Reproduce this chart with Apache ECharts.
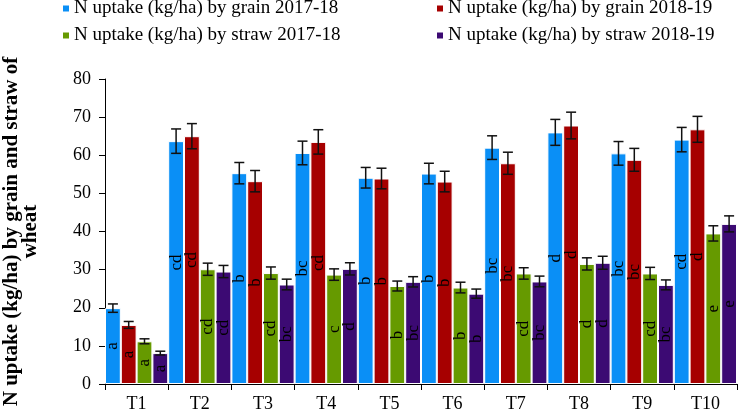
<!DOCTYPE html>
<html><head><meta charset="utf-8">
<script src="https://cdn.jsdelivr.net/npm/echarts@6/dist/echarts.min.js"></script>
<style>html,body{margin:0;padding:0;background:#fff}#c{width:738px;height:413px}</style>
</head><body><div id="c"></div>
<script>
var categories = ['T1','T2','T3','T4','T5','T6','T7','T8','T9','T10'];
var seriesNames = ['N uptake (kg/ha) by grain 2017-18','N uptake (kg/ha) by grain 2018-19','N uptake (kg/ha) by straw 2017-18','N uptake (kg/ha) by straw 2018-19'];
var grain1718 = [19.9, 63.7, 55.3, 60.6, 54.1, 55.2, 62.0, 66.0, 60.5, 64.1];
var grain1819 = [15.5, 65.0, 53.2, 63.5, 53.9, 53.1, 57.9, 67.8, 58.8, 66.8];
var straw1718 = [11.2, 30.1, 29.1, 28.7, 25.7, 25.3, 29.0, 31.5, 29.0, 39.5];
var straw1819 = [8.1, 29.5, 26.1, 30.2, 26.8, 23.7, 26.9, 31.8, 26.0, 42.0];
var errGrain1718 = [1.1, 3.2, 2.8, 3.1, 2.7, 2.7, 3.1, 3.4, 3.1, 3.2];
var errGrain1819 = [0.9, 3.3, 2.8, 3.2, 2.7, 2.7, 2.9, 3.5, 3.0, 3.4];
var errStraw1718 = [0.65, 1.6, 1.6, 1.5, 1.3, 1.4, 1.5, 1.6, 1.6, 2.0];
var errStraw1819 = [0.5, 1.6, 1.4, 1.6, 1.35, 1.2, 1.4, 1.7, 1.3, 2.1];
var letGrain1718 = ['a','cd','b','bc','b','b','bc','d','bc','cd'];
var letGrain1819 = ['a','cd','b','cd','b','b','bc','d','bc','d'];
var letStraw1718 = ['a','cd','cd','c','b','b','cd','d','cd','e'];
var letStraw1819 = ['a','cd','bc','d','bc','b','bc','d','bc','e'];
var yTicks = [0,10,20,30,40,50,60,70,80];

var colors = ['#0A8FF6','#A60000','#669A00','#3C0A73'];
var values = [grain1718, grain1819, straw1718, straw1819];
var errs = [errGrain1718, errGrain1819, errStraw1718, errStraw1819];
var lets = [letGrain1718, letGrain1819, letStraw1718, letStraw1819];
var serif = 'Liberation Serif';

var series = [];
values.forEach(function(v, si){
  series.push({
    name: seriesNames[si], type: 'bar', data: v,
    barGap: 0, barCategoryGap: 0,
    itemStyle: {color: colors[si], borderColor: '#fff', borderWidth: 1},
    label: {show: true, position: 'inside', rotate: 90, color: '#000',
      fontFamily: serif, fontSize: 17,
      formatter: function(p){ return lets[si][p.dataIndex]; }}
  });
});
values.forEach(function(v, si){
  series.push({
    type: 'custom', z: 10, silent: true,
    data: v.map(function(val, i){ return [i, val, errs[si][i]]; }),
    renderItem: function(params, api){
      var i = api.value(0), val = api.value(1), e = api.value(2);
      var cw = api.size([1, 0])[0];
      var off = (si - 1.5) * cw / 4;
      var top = api.coord([i, val + e]);
      var bot = api.coord([i, val - e]);
      var x = top[0] + off, hw = 5;
      var st = {stroke: '#111', lineWidth: 1.5};
      return {type: 'group', children: [
        {type: 'line', shape: {x1: x, y1: top[1], x2: x, y2: bot[1]}, style: st},
        {type: 'line', shape: {x1: x - hw, y1: top[1], x2: x + hw, y2: top[1]}, style: st},
        {type: 'line', shape: {x1: x - hw, y1: bot[1], x2: x + hw, y2: bot[1]}, style: st}
      ]};
    }
  });
});

var legendPos = [[61, -1], [435, -1], [61, 26], [435, 26]];
var legends = seriesNames.map(function(n, i){
  return {data: [n], left: legendPos[i][0], top: legendPos[i][1], padding: 0,
    itemWidth: 8, itemHeight: 8, itemGap: 2,
    icon: 'rect', textStyle: {fontFamily: serif, fontSize: 19, color: '#000', padding: [0,0,0,-1]}};
});

var chart = echarts.init(document.getElementById('c'));
chart.setOption({
  animation: false,
  legend: legends,
  grid: {left: 105, right: 1, top: 79, bottom: 29, containLabel: false, outerBoundsMode: 'none'},
  xAxis: {type: 'category', data: categories,
    axisLine: {lineStyle: {color: '#000', width: 1}},
    axisTick: {show: true, length: 6, lineStyle: {color: '#000'}},
    axisLabel: {fontFamily: serif, fontSize: 18, color: '#000', margin: 11}},
  yAxis: {type: 'value', min: yTicks[0], max: yTicks[yTicks.length-1], interval: 10,
    name: 'N uptake (kg/ha) by grain and straw of\nwheat', nameLocation: 'middle', nameGap: 65,
    nameTextStyle: {fontFamily: serif, fontSize: 21, fontWeight: 'bold', color: '#000', lineHeight: 19},
    axisLine: {show: true, lineStyle: {color: '#000', width: 1}},
    axisTick: {show: true, length: 6, lineStyle: {color: '#000'}},
    splitLine: {show: false},
    axisLabel: {fontFamily: serif, fontSize: 18, color: '#000', margin: 14}},
  series: series
});
</script></body></html>
